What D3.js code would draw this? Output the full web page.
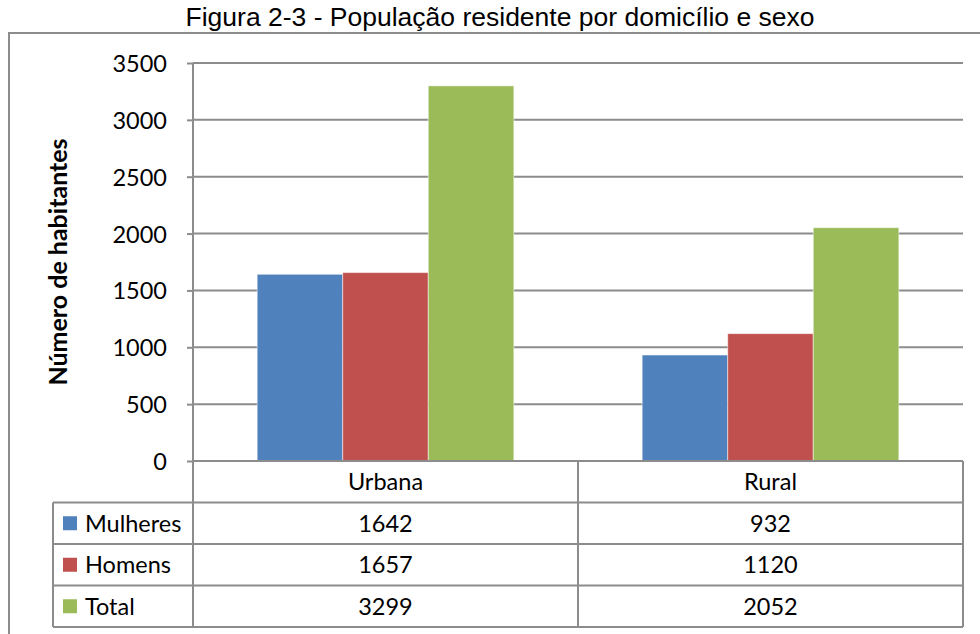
<!DOCTYPE html>
<html>
<head>
<meta charset="utf-8">
<script src="https://cdn.jsdelivr.net/npm/d3@7"></script>
<style>
  body { margin: 0; background: #fff; }
  text { font-family: Lato, "Open Sans", sans-serif; fill: #000; }
  .title { font-family: "Liberation Sans", Arial, sans-serif; font-size: 26.5px; }
</style>
</head>
<body>
<svg id="chart" width="980" height="634"></svg>
<script>
// data
var categories = ["Urbana", "Rural"];
var seriesNames = ["Mulheres", "Homens", "Total"];
var mulheres = [1642, 932];
var homens = [1657, 1120];
var total = [3299, 2052];
var yTicks = [0, 500, 1000, 1500, 2000, 2500, 3000, 3500];

var colors = ["#4f81bd", "#c0504d", "#9bbb59"];
var series = [mulheres, homens, total];
var gridColor = "#8c8c8c";
var fontSize = 23.5;

var svg = d3.select("#chart");

var plot = { left: 193, right: 963, top: 63, bottom: 461 };
var rowH = 41.5;
var legendLeft = 53;

var x = d3.scaleBand().domain(categories).range([plot.left, plot.right]);
// gap width 150% -> inner padding of the group
var x1 = d3.scaleBand().domain(seriesNames)
    .range([0, x.bandwidth()])
    .paddingOuter(0.75);
var y = d3.scaleLinear().domain([0, 3500]).range([plot.bottom, plot.top]);

// title
svg.append("text")
    .attr("class", "title")
    .attr("x", 500)
    .attr("y", 26)
    .attr("text-anchor", "middle")
    .text("Figura 2-3 - População residente por domicílio e sexo");

// outer frame (runs off the picture right and bottom)
svg.append("path")
    .attr("d", "M9,700 L9,33 L1000,33")
    .attr("fill", "none")
    .attr("stroke", gridColor)
    .attr("stroke-width", 2);

// gridlines
svg.append("g").selectAll("line")
    .data(yTicks.filter(function (d) { return d > 0; }))
    .enter().append("line")
    .attr("x1", plot.left)
    .attr("x2", plot.right)
    .attr("y1", function (d) { return y(d); })
    .attr("y2", function (d) { return y(d); })
    .attr("stroke", gridColor)
    .attr("stroke-width", 2);

// bars
var groups = svg.append("g").selectAll("g")
    .data(categories)
    .enter().append("g")
    .attr("transform", function (d) { return "translate(" + x(d) + ",0)"; });

groups.selectAll("rect")
    .data(function (d, i) {
        return series.map(function (s, k) { return { name: seriesNames[k], value: s[i], k: k }; });
    })
    .enter().append("rect")
    .attr("x", function (d) { return x1(d.name); })
    .attr("width", x1.bandwidth())
    .attr("y", function (d) { return y(d.value); })
    .attr("height", function (d) { return y(0) - y(d.value); })
    .attr("fill", function (d) { return colors[d.k]; })
    .attr("stroke", "rgba(255,255,255,0.5)")
    .attr("stroke-width", 1);

// y axis
var yAxis = d3.axisLeft(y).tickValues(yTicks).tickFormat(d3.format("d"))
    .tickSize(6).tickPadding(20);
var yg = svg.append("g")
    .attr("transform", "translate(" + plot.left + ",0)")
    .call(yAxis);
yg.select(".domain").remove();
yg.selectAll(".tick line").attr("stroke", gridColor).attr("stroke-width", 2);
yg.selectAll(".tick text")
    .attr("font-family", "Lato, sans-serif")
    .attr("font-size", fontSize)
    .attr("fill", "#000")
    .attr("dy", "0.36em");

svg.append("text")
    .attr("transform", "translate(67," + ((plot.top + plot.bottom) / 2) + ") rotate(-90)")
    .attr("text-anchor", "middle")
    .attr("font-weight", "bold")
    .attr("font-size", 25)
    .text("Número de habitantes");

// data table
var rowsTop = plot.bottom + rowH;
var tableBottom = rowsTop + rowH * seriesNames.length;
var table = svg.append("g");

function tline(x1v, y1v, x2v, y2v) {
    table.append("line")
        .attr("x1", x1v).attr("y1", y1v).attr("x2", x2v).attr("y2", y2v)
        .attr("stroke", gridColor).attr("stroke-width", 2);
}

// axis line and verticals
tline(plot.left, plot.top, plot.left, tableBottom);
tline(plot.left, plot.bottom, plot.right, plot.bottom);
tline(plot.right, plot.bottom, plot.right, tableBottom);
tline(x("Rural"), plot.bottom, x("Rural"), tableBottom);
tline(legendLeft, rowsTop, legendLeft, tableBottom);
for (var r = 0; r <= seriesNames.length; r++) {
    tline(legendLeft, rowsTop + r * rowH, plot.right, rowsTop + r * rowH);
}

// category header
table.selectAll(".cat")
    .data(categories)
    .enter().append("text")
    .attr("x", function (d) { return x(d) + x.bandwidth() / 2; })
    .attr("y", plot.bottom + rowH / 2)
    .attr("dy", "0.36em")
    .attr("text-anchor", "middle")
    .attr("font-size", fontSize)
    .text(function (d) { return d; });

// legend keys + values
seriesNames.forEach(function (name, k) {
    var cy = rowsTop + k * rowH + rowH / 2;
    table.append("rect")
        .attr("x", 63)
        .attr("y", cy - 7)
        .attr("width", 14)
        .attr("height", 14)
        .attr("fill", colors[k]);
    table.append("text")
        .attr("x", 85)
        .attr("y", cy)
        .attr("dy", "0.36em")
        .attr("font-size", fontSize)
        .text(name);
    categories.forEach(function (c, i) {
        table.append("text")
            .attr("x", x(c) + x.bandwidth() / 2)
            .attr("y", cy)
            .attr("dy", "0.36em")
            .attr("text-anchor", "middle")
            .attr("font-size", fontSize)
            .text(series[k][i]);
    });
});
</script>
</body>
</html>
